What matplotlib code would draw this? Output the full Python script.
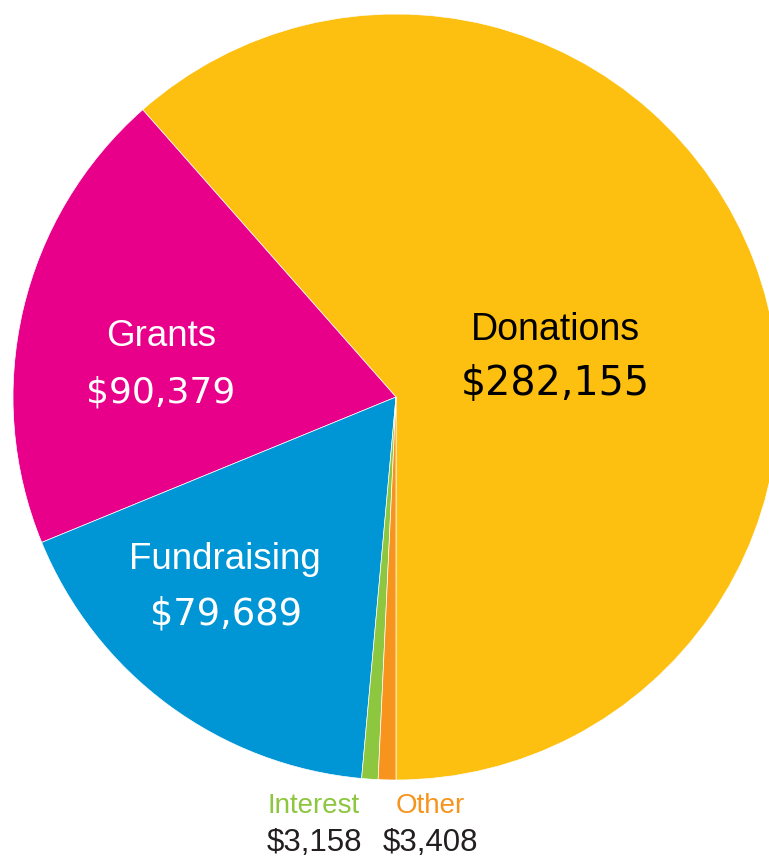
import matplotlib
matplotlib.use("Agg")
import matplotlib.pyplot as plt

categories = ["Donations", "Grants", "Fundraising", "Interest", "Other"]
values = [282155, 90379, 79689, 3158, 3408]
value_labels = ["$282,155", "$90,379", "$79,689", "$3,158", "$3,408"]
colors = ["#FDC010", "#E8008A", "#0095D5", "#8DC63F", "#F7941D"]

W, H = 769, 861
fig = plt.figure(figsize=(W / 100, H / 100), dpi=100)
ax = fig.add_axes([0, 0, 1, 1])

cx, cy, r = 396, H - 397, 383
ax.pie(values, colors=colors, startangle=-90, counterclock=True,
       center=(cx, cy), radius=r, frame=True,
       wedgeprops=dict(edgecolor="white", linewidth=0.5))
ax.set_xlim(0, W)
ax.set_ylim(0, H)
ax.set_aspect("equal")
ax.axis("off")

name_font = ["Liberation Sans", "DejaVu Sans"]
val_font = ["DejaVu Sans"]

def lab(x, y, s, color, size, fam):
    ax.text(x, H - y, s, color=color, fontsize=size, ha="center", va="baseline",
            family=fam)

lab(555, 340, categories[0], "black", 27, name_font)
lab(555, 395, value_labels[0], "black", 28.5, val_font)
lab(161, 346, categories[1], "white", 26.5, name_font)
lab(161, 402, value_labels[1], "white", 26, val_font)
lab(225, 569, categories[2], "white", 26.5, name_font)
lab(226, 624, value_labels[2], "white", 26.5, val_font)
lab(314, 813, categories[3], colors[3], 20, name_font)
lab(314, 851, value_labels[3], "#231F20", 22.5, name_font)
lab(430, 813, categories[4], colors[4], 20, name_font)
lab(430, 851, value_labels[4], "#231F20", 22.5, name_font)

fig.savefig("out.png", dpi=100)
